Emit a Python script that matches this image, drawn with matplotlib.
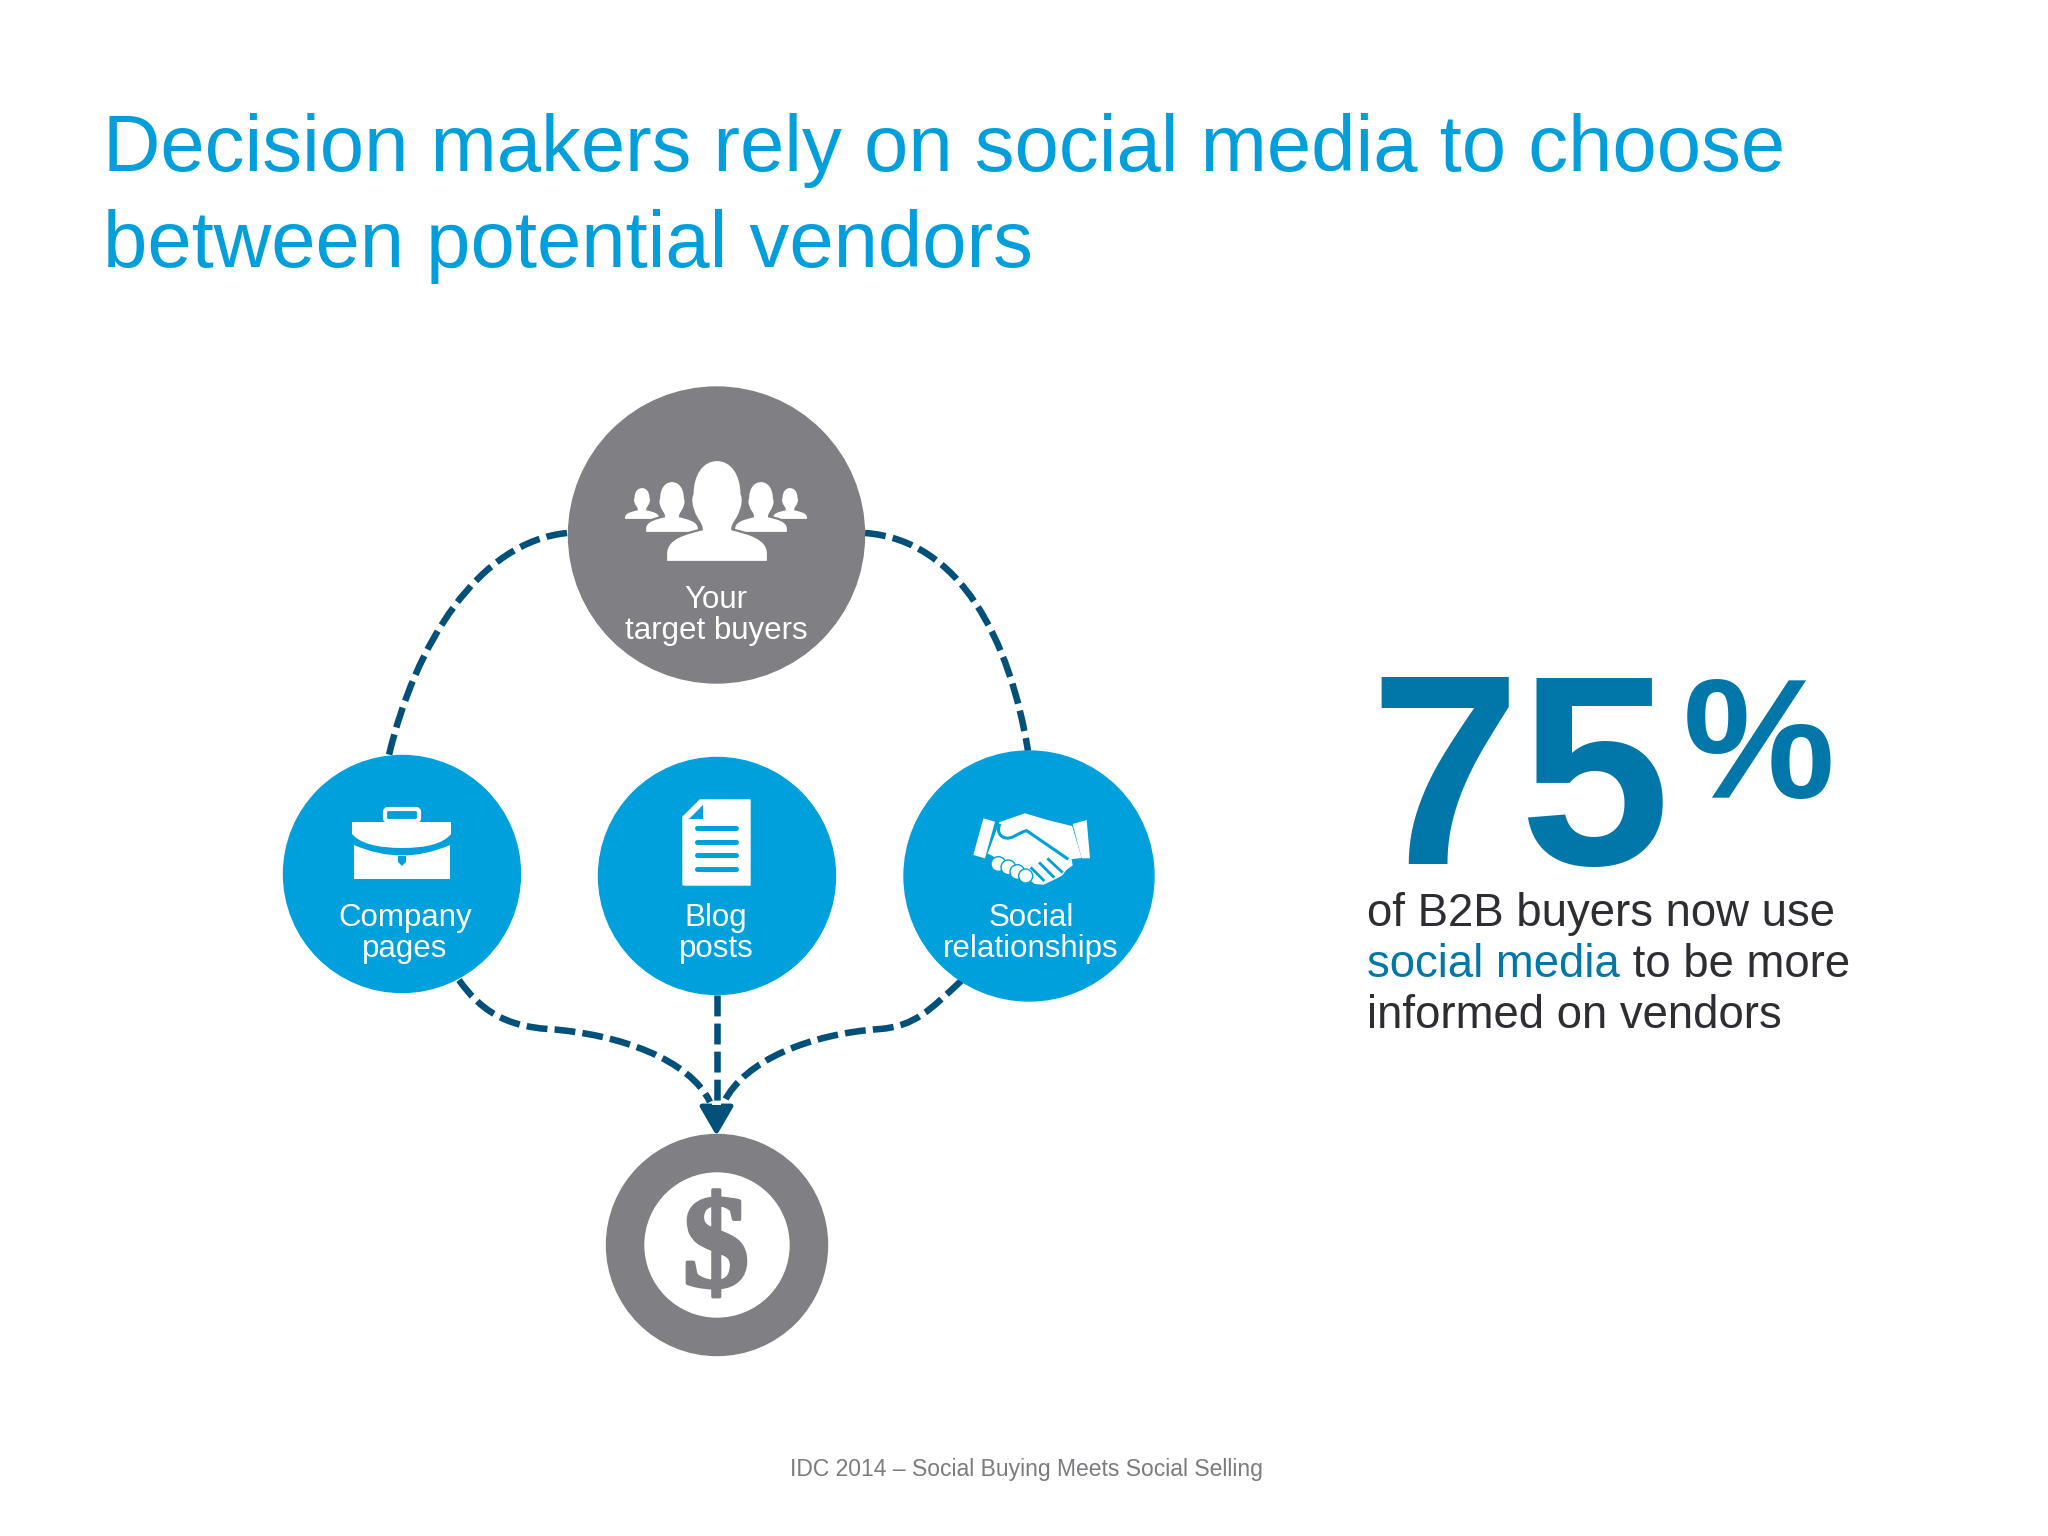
import matplotlib
matplotlib.use("Agg")
import matplotlib.pyplot as plt
import matplotlib.patheffects as pe
from matplotlib.patches import Circle, PathPatch, Polygon, Rectangle, FancyBboxPatch
from matplotlib.path import Path

plt.rcParams['font.family'] = ['Liberation Sans', 'DejaVu Sans']

# text and values
title_lines = ["Decision makers rely on social media to choose", "between potential vendors"]
share_pct = 75
buyer_label = ["Your", "target buyers"]
channel_labels = [["Company", "pages"], ["Blog", "posts"], ["Social", "relationships"]]
body_first = "of B2B buyers now use"
body_accent = "social media"
body_second = " to be more"
body_third = "informed on vendors"
footer = "IDC 2014 – Social Buying Meets Social Selling"

SKY = '#00a0dc'
GREY = '#807f83'
TEAL = '#0077a8'
NAVY = '#00507a'
INK = '#2d2d33'

fig = plt.figure(figsize=(20.48, 15.36), dpi=100)
ax = fig.add_axes([0, 0, 1, 1])
ax.set_xlim(0, 2048)
ax.set_ylim(1536, 0)
ax.axis('off')


def dashed(verts, codes):
    ax.add_patch(PathPatch(Path(verts, codes), fill=False, edgecolor=NAVY, lw=4.7,
                           linestyle=(0, (3.2, 1.1)), capstyle='butt', zorder=1))


C3 = [Path.MOVETO, Path.CURVE4, Path.CURVE4, Path.CURVE4]
C6 = C3 + [Path.CURVE4, Path.CURVE4, Path.CURVE4]

# connectors
dashed([(567, 533), (478, 542), (415, 645), (389, 755)], C3)
dashed([(865, 533), (960, 540), (1010, 640), (1028, 751)], C3)
dashed([(459, 980), (480, 1010), (505, 1026), (548, 1029), (620, 1034), (690, 1060), (710, 1102)], C6)
dashed([(962, 980), (930, 1010), (915, 1026), (880, 1029), (810, 1034), (745, 1060), (724, 1102)], C6)
dashed([(716.5, 995), (716.5, 1102)], [Path.MOVETO, Path.LINETO])

# arrow head
ax.add_patch(Polygon([(702, 1106), (731, 1106), (716.5, 1131)], closed=True, facecolor=NAVY,
                     edgecolor=NAVY, lw=3.5, joinstyle='round', zorder=2))
ax.add_patch(Rectangle((712, 1102), 9, 3, facecolor='white', edgecolor='none', zorder=3))

# circles
ax.add_patch(Circle((716.5, 535), 148, color=GREY, zorder=4))
ax.add_patch(Circle((402, 874), 118.5, color=SKY, zorder=4))
ax.add_patch(Circle((717, 876), 118.5, color=SKY, zorder=4))
ax.add_patch(Circle((1029, 876), 125, color=SKY, zorder=4))
ax.add_patch(Circle((717, 1245), 110.5, color=GREY, zorder=4))
ax.add_patch(Circle((717, 1245), 72, color='white', zorder=5))
ax.text(716, 1254, "$", fontsize=96, fontweight='bold', color=GREY, ha='center', va='center',
        family=['Liberation Serif', 'DejaVu Sans'], zorder=6,
        path_effects=[pe.withStroke(linewidth=2.5, foreground=GREY)])


def person(cx, top, bottom, half, z):
    h = bottom - top

    def pt(x, y):
        return (cx + x * half, top + y * h)
    right = [(.3, 0), (.48, .15), (.48, .33), (.53, .38), (.5, .46), (.46, .5), (.42, .58), (.3, .62), (.3, .68),
             (.6, .72), (1, .76), (1, .92)]
    verts = [pt(0, 0)] + [pt(x, y) for x, y in right] + [pt(1, 1), pt(-1, 1)]
    codes = [Path.MOVETO] + [Path.CURVE4] * 12 + [Path.LINETO, Path.LINETO]
    left = [(-1, .92), (-1, .76), (-.6, .72), (-.3, .68), (-.3, .62), (-.42, .58), (-.46, .5), (-.5, .46), (-.53, .38),
            (-.48, .33), (-.48, .15), (-.3, 0), (0, 0)]
    verts += [pt(x, y) for x, y in left] + [pt(0, 0)]
    codes += [Path.LINETO] + [Path.CURVE4] * 12 + [Path.CLOSEPOLY]
    ax.add_patch(PathPatch(Path(verts, codes), facecolor='white', edgecolor=GREY, lw=1.6, zorder=z))


# people icon, back row first
person(642, 487, 520, 18, 5)
person(790, 487, 520, 18, 5)
person(672, 481, 533, 27, 6)
person(761, 481, 533, 27, 6)
person(717, 460, 562, 51, 7)

# briefcase
ax.add_patch(FancyBboxPatch((385, 809), 34, 12, boxstyle="round,pad=0,rounding_size=3", facecolor='none',
                            edgecolor='white', lw=3, zorder=5))
ax.add_patch(PathPatch(Path([(352, 822), (451, 822), (451, 834), (440, 848), (402, 848), (364, 848), (352, 834), (352, 822)],
                            [Path.MOVETO, Path.LINETO, Path.LINETO, Path.CURVE3, Path.CURVE3, Path.CURVE3, Path.CURVE3, Path.CLOSEPOLY]),
                       facecolor='white', edgecolor='none', zorder=6))
ax.add_patch(PathPatch(Path([(354, 845), (402, 866), (450, 845), (450, 879), (354, 879), (354, 845)],
                            [Path.MOVETO, Path.CURVE3, Path.CURVE3, Path.LINETO, Path.LINETO, Path.CLOSEPOLY]),
                       facecolor='white', edgecolor='none', zorder=6))
ax.add_patch(Polygon([(398, 856), (406, 856), (406, 862), (402, 866), (398, 862)], closed=True, facecolor=SKY,
                     edgecolor='none', zorder=7))

# document
ax.add_patch(Polygon([(683, 817), (700, 800), (750, 800), (750, 885), (683, 885)], closed=True, facecolor='white',
                     edgecolor='white', lw=1, joinstyle='round', zorder=5))
ax.add_patch(Polygon([(689, 819), (703, 805), (703, 819)], closed=True, facecolor=SKY, edgecolor='none', zorder=6))
for y in (828, 842, 855, 869):
    ax.plot([697, 736], [y, y], color=SKY, lw=3.6, solid_capstyle='round', zorder=6)


def hs(x, y):
    return (960 + x / 3, 800 + y / 3)


ax.add_patch(Polygon([hs(70, 55), hs(105, 65), hs(75, 175), hs(40, 165)], closed=True, facecolor='white', edgecolor='none', zorder=5))
ax.add_patch(Polygon([hs(338, 72), hs(380, 60), hs(390, 175), hs(365, 175)], closed=True, facecolor='white', edgecolor='none', zorder=5))
ax.add_patch(Polygon([hs(120, 68), hs(195, 42), hs(262, 62), hs(335, 80), hs(362, 172), hs(332, 176), hs(336, 195),
                      hs(318, 208), hs(305, 225), hs(280, 238), hs(250, 252), hs(225, 250), hs(190, 222), hs(100, 170), hs(85, 162)],
                     closed=True, facecolor='white', edgecolor='white', lw=1, joinstyle='round', zorder=5))
ax.add_patch(PathPatch(Path([hs(120, 72), hs(105, 100), hs(130, 125), hs(160, 110), hs(175, 102), hs(195, 92), hs(200, 92), hs(325, 178)],
                            [Path.MOVETO, Path.CURVE4, Path.CURVE4, Path.CURVE4, Path.CURVE4, Path.CURVE4, Path.CURVE4, Path.LINETO]),
                       fill=False, edgecolor=SKY, lw=2.2, zorder=6))
for a, b in [((265, 178), (305, 215)), ((240, 190), (280, 230)), ((215, 205), (250, 240))]:
    ax.plot(*zip(hs(*a), hs(*b)), color=SKY, lw=2, zorder=6)
ax.plot(*zip(hs(85, 165), hs(215, 232)), color=SKY, lw=1.5, zorder=6)
for x, y, r in [(115, 192, 22), (145, 202, 22), (172, 216, 22), (197, 228, 21)]:
    ax.add_patch(Circle(hs(x, y), r / 3, facecolor='white', edgecolor=SKY, lw=1, zorder=7))

# circle labels
LABEL_PT = 22.5
ax.text(716, 608, buyer_label[0], color='white', fontsize=LABEL_PT, ha='center', va='baseline', zorder=8)
ax.text(716, 639, buyer_label[1], color='white', fontsize=LABEL_PT, ha='center', va='baseline', zorder=8)
for cx, lines in zip((405, 716, 1031), channel_labels):
    ax.text(cx, 926, lines[0], color='white', fontsize=LABEL_PT, ha='center', va='baseline', zorder=8)
    ax.text(cx, 957, lines[1], color='white', fontsize=LABEL_PT, ha='center', va='baseline', zorder=8)

# title
ax.text(103, 171, title_lines[0], color='#009fdb', fontsize=57.3, va='baseline')
ax.text(103, 267, title_lines[1], color='#009fdb', fontsize=57.3, va='baseline')

# big number
ax.text(1369, 864, str(share_pct), color=TEAL, fontsize=195, fontweight='bold', va='baseline')
ax.text(1683, 798, "%", color=TEAL, fontsize=123, fontweight='bold', va='baseline')

# body copy
BODY_PT = 32.8
ax.text(1367, 926, body_first, color=INK, fontsize=BODY_PT, va='baseline')
accent = ax.text(1367, 977, body_accent, color=TEAL, fontsize=BODY_PT, va='baseline')
fig.canvas.draw()
x_end = accent.get_window_extent().x1
ax.text(x_end, 977, body_second, color=INK, fontsize=BODY_PT, va='baseline')
ax.text(1367, 1028, body_third, color=INK, fontsize=BODY_PT, va='baseline')

# source
ax.text(1026, 1476, footer, color='#7b7b80', fontsize=16.5, ha='center', va='baseline')

fig.savefig("out.png", dpi=100, facecolor='white')
